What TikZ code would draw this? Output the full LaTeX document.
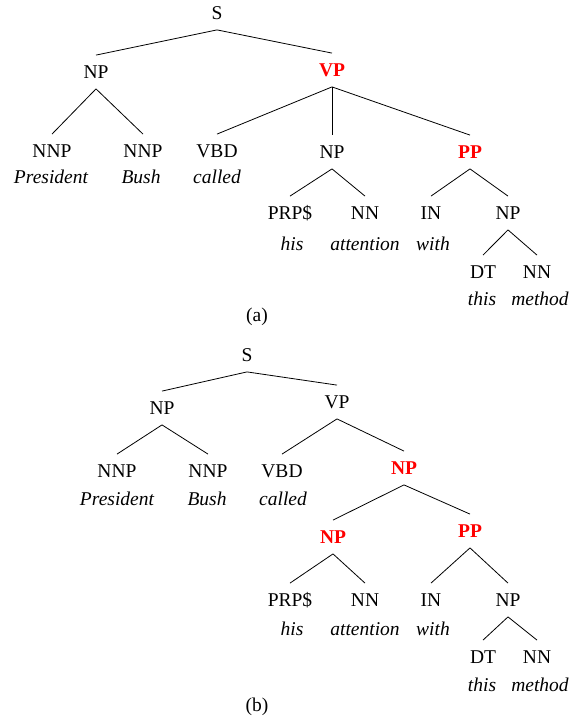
\documentclass[tikz,border=0pt]{standalone}
\usepackage{fontspec}
\setmainfont{Liberation Serif}
\newcommand{\tfont}{\fontsize{19.5}{22}\selectfont}
\begin{document}
\begin{tikzpicture}[x=1pt, y=-1pt, line width=0.8pt,
  lbl/.style={inner xsep=0pt, inner ysep=10pt, text height=13pt, text depth=0pt, font=\tfont},
  hl/.style={lbl, text=red, font=\tfont\bfseries},
  wrd/.style={inner sep=0pt, text height=13.5pt, text depth=0pt, font=\tfont\itshape}]
\useasboundingbox (0,0) rectangle (580,722);
% tree (a)
\node[lbl] (ta0) at (217,13){S};
\node[lbl] (ta1) at (96,72){NP};
\node[hl] (ta2) at (332,70){VP};
\draw[](ta0.south) -- (ta1.north);
\draw[](ta0.south) -- (ta2.north);
\node[lbl] (ta3) at (52,151){NNP};
\node[lbl] (ta4) at (143,151){NNP};
\draw[](ta1.south) -- (ta3.north);
\draw[](ta1.south) -- (ta4.north);
\node[lbl] (ta5) at (217,151){VBD};
\node[lbl] (ta6) at (332,152){NP};
\node[hl] (ta7) at (470,152){PP};
\draw[](ta2.south) -- (ta5.north);
\draw[](ta2.south) -- (ta6.north);
\draw[](ta2.south) -- (ta7.north);
\node[lbl] (ta8) at (290,213){PRP\$};
\node[lbl] (ta9) at (365,213){NN};
\draw[](ta6.south) -- (ta8.north);
\draw[](ta6.south) -- (ta9.north);
\node[lbl] (ta10) at (431,213){IN};
\node[lbl] (ta11) at (508,213){NP};
\draw[](ta7.south) -- (ta10.north);
\draw[](ta7.south) -- (ta11.north);
\node[lbl] (ta12) at (483,272){DT};
\node[lbl] (ta13) at (537,272){NN};
\draw[](ta11.south) -- (ta12.north);
\draw[](ta11.south) -- (ta13.north);
\node[wrd] (wa3) at (51,177){President};
\node[wrd] (wa4) at (141,177){Bush};
\node[wrd] (wa5) at (217,177){called};
\node[wrd] (wa8) at (292,244){his};
\node[wrd] (wa9) at (365,244){attention};
\node[wrd] (wa10) at (433,244){with};
\node[wrd] (wa12) at (482,299){this};
\node[wrd] (wa13) at (540,299){method};
\node[inner sep=0pt, font=\tfont] (capa) at (257,317){(a)};
% tree (b)
\node[lbl] (tb0) at (247,355){S};
\node[lbl] (tb1) at (162,408){NP};
\node[lbl] (tb2) at (337,402){VP};
\draw[](tb0.south) -- (tb1.north);
\draw[](tb0.south) -- (tb2.north);
\node[lbl] (tb3) at (117,471){NNP};
\node[lbl] (tb4) at (208,471){NNP};
\draw[](tb1.south) -- (tb3.north);
\draw[](tb1.south) -- (tb4.north);
\node[lbl] (tb5) at (282,471){VBD};
\node[hl] (tb6) at (404,468){NP};
\draw[](tb2.south) -- (tb5.north);
\draw[](tb2.south) -- (tb6.north);
\node[hl] (tb7) at (333,537){NP};
\node[hl] (tb8) at (470,531){PP};
\draw[](tb6.south) -- (tb7.north);
\draw[](tb6.south) -- (tb8.north);
\node[lbl] (tb9) at (290,600){PRP\$};
\node[lbl] (tb10) at (365,600){NN};
\draw[](tb7.south) -- (tb9.north);
\draw[](tb7.south) -- (tb10.north);
\node[lbl] (tb11) at (431,600){IN};
\node[lbl] (tb12) at (508,600){NP};
\draw[](tb8.south) -- (tb11.north);
\draw[](tb8.south) -- (tb12.north);
\node[lbl] (tb13) at (483,657){DT};
\node[lbl] (tb14) at (537,657){NN};
\draw[](tb12.south) -- (tb13.north);
\draw[](tb12.south) -- (tb14.north);
\node[wrd] (wb3) at (117,499){President};
\node[wrd] (wb4) at (207,499){Bush};
\node[wrd] (wb5) at (283,499){called};
\node[wrd] (wb9) at (292,629){his};
\node[wrd] (wb10) at (365,629){attention};
\node[wrd] (wb11) at (433,629){with};
\node[wrd] (wb13) at (482,685){this};
\node[wrd] (wb14) at (540,685){method};
\node[inner sep=0pt, font=\tfont] (capb) at (257,707){(b)};

\end{tikzpicture}
\end{document}
